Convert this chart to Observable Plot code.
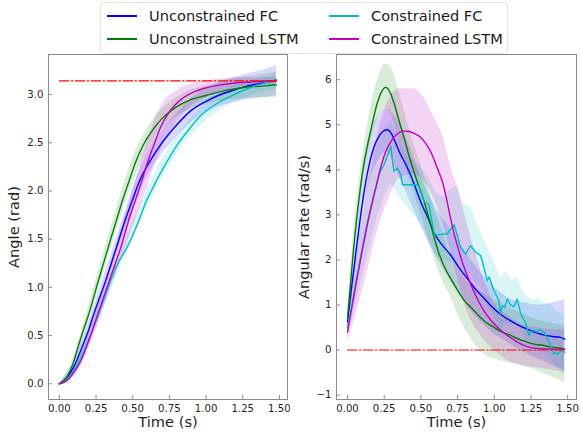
<!DOCTYPE html>
<html>
<head>
<meta charset="utf-8">
<script src="https://cdn.jsdelivr.net/npm/d3@7"></script>
<script src="https://cdn.jsdelivr.net/npm/@observablehq/plot@0.6"></script>
<style>
  html, body { margin: 0; padding: 0; background: #fff; }
  #wrap { position: relative; width: 581px; height: 434px; overflow: hidden; font-family: "DejaVu Sans", sans-serif; }
  #left, #right { position: absolute; top: 0; }
  #left { left: 0; }
  #right { left: 290px; }
  #legend { position: absolute; left: 100px; top: 2px; width: 406px; height: 50px; border: 1px solid #e4e4e4; border-radius: 3px; background: #fff; z-index: 5; }
  .sw { position: absolute; width: 30px; height: 2px; }
  .lt { position: absolute; font-size: 14.6px; color: #1a1a1a; line-height: 16px; white-space: nowrap; }
</style>
</head>
<body>
<div id="wrap">
  <div id="left"></div>
  <div id="right"></div>
  <div id="legend"></div>
</div>
<script>
// ---- series ----
const seriesNames = ["Unconstrained FC", "Unconstrained LSTM", "Constrained FC", "Constrained LSTM"];
const seriesColors = ["#0000ff", "#008000", "#00bfbf", "#bf00bf"];
const targetAngle = 3.14159;
const targetRate = 0;
const targetSpan = [0, 1.48];

// ---- tick labels ----
const timeTicks = [0, 0.25, 0.5, 0.75, 1.0, 1.25, 1.5];
const angleTicks = [0, 0.5, 1.0, 1.5, 2.0, 2.5, 3.0];
const rateTicks = [-1, 0, 1, 2, 3, 4, 5, 6];

// ---- Angle (rad): [time, mean] ----
const angleUFC = [[0,0],[0.05,0.06],[0.1,0.18],[0.157,0.39],[0.2,0.56],[0.236,0.73],[0.316,1.07],[0.39,1.42],[0.463,1.76],[0.497,1.9],[0.543,2.09],[0.622,2.32],[0.7,2.5],[0.78,2.65],[0.895,2.83],[1.0,2.93],[1.1,3.0],[1.2,3.05],[1.26,3.08],[1.35,3.11],[1.42,3.13],[1.48,3.15]];
const angleULSTM = [[0,0],[0.05,0.07],[0.1,0.24],[0.123,0.36],[0.16,0.54],[0.202,0.73],[0.266,1.07],[0.334,1.42],[0.402,1.76],[0.43,1.9],[0.47,2.08],[0.52,2.3],[0.58,2.5],[0.645,2.65],[0.7,2.75],[0.76,2.83],[0.83,2.9],[0.9,2.95],[1.0,2.99],[1.1,3.03],[1.2,3.06],[1.3,3.08],[1.4,3.09],[1.48,3.1]];
const angleCFC = [[0,0],[0.05,0.04],[0.1,0.14],[0.15,0.28],[0.2,0.46],[0.25,0.65],[0.3,0.86],[0.35,1.07],[0.4,1.25],[0.463,1.42],[0.52,1.61],[0.559,1.76],[0.588,1.88],[0.627,2.0],[0.656,2.09],[0.736,2.31],[0.8,2.47],[0.895,2.66],[0.95,2.76],[1.009,2.84],[1.1,2.93],[1.19,3.0],[1.28,3.06],[1.38,3.11],[1.48,3.15]];
const angleCLSTM = [[0,0],[0.05,0.03],[0.1,0.12],[0.15,0.25],[0.184,0.38],[0.22,0.53],[0.259,0.71],[0.3,0.89],[0.35,1.11],[0.42,1.42],[0.486,1.76],[0.52,1.91],[0.561,2.1],[0.604,2.31],[0.65,2.5],[0.69,2.66],[0.759,2.84],[0.83,2.95],[0.907,3.02],[1.0,3.07],[1.1,3.1],[1.2,3.12],[1.3,3.13],[1.4,3.14],[1.48,3.14]];

// ---- Angle bands: [time, low, high] ----
const bandAngleUFC = [[0,0,0],[0.1,0.13,0.23],[0.2,0.47,0.64],[0.3,0.92,1.1],[0.4,1.37,1.56],[0.5,1.8,2.02],[0.6,2.15,2.4],[0.7,2.38,2.63],[0.8,2.56,2.8],[0.9,2.71,2.96],[1.0,2.81,3.06],[1.1,2.88,3.13],[1.2,2.92,3.18],[1.3,2.95,3.22],[1.4,2.97,3.26],[1.48,2.99,3.3]];
const bandAngleULSTM = [[0,0,0],[0.1,0.19,0.29],[0.2,0.64,0.81],[0.3,1.14,1.35],[0.4,1.64,1.87],[0.5,2.08,2.34],[0.6,2.42,2.65],[0.7,2.64,2.85],[0.8,2.77,2.97],[0.9,2.85,3.05],[1.0,2.9,3.09],[1.1,2.93,3.13],[1.2,2.95,3.17],[1.3,2.96,3.19],[1.4,2.97,3.21],[1.48,2.97,3.23]];
const bandAngleCFC = [[0,0,0],[0.1,0.1,0.18],[0.2,0.39,0.53],[0.3,0.78,0.94],[0.4,1.16,1.33],[0.5,1.5,1.68],[0.6,1.83,2.02],[0.7,2.13,2.33],[0.8,2.38,2.57],[0.9,2.57,2.76],[1.0,2.73,2.92],[1.1,2.84,3.02],[1.2,2.92,3.09],[1.3,2.98,3.14],[1.4,3.03,3.18],[1.48,3.06,3.22]];
const bandAngleCLSTM = [[0,0,0],[0.1,0.07,0.17],[0.2,0.36,0.54],[0.3,0.76,1.0],[0.4,1.2,1.5],[0.5,1.62,2.0],[0.6,2.04,2.52],[0.7,2.45,2.9],[0.8,2.72,3.04],[0.9,2.88,3.11],[1.0,2.97,3.14],[1.1,3.03,3.16],[1.2,3.07,3.17],[1.3,3.09,3.17],[1.48,3.1,3.18]];

// ---- Angular rate (rad/s): [time, mean] ----
const rateUFC = [[0,0.63],[0.03,1.45],[0.06,2.25],[0.09,3.0],[0.12,3.65],[0.15,4.15],[0.18,4.5],[0.21,4.72],[0.24,4.85],[0.27,4.89],[0.3,4.8],[0.33,4.58],[0.36,4.35],[0.4,4.1],[0.45,3.72],[0.5,3.28],[0.55,2.92],[0.59,2.6],[0.64,2.35],[0.7,2.12],[0.77,1.78],[0.82,1.57],[0.87,1.36],[0.93,1.15],[0.98,0.97],[1.04,0.8],[1.1,0.67],[1.16,0.56],[1.22,0.47],[1.28,0.39],[1.34,0.33],[1.4,0.3],[1.45,0.28],[1.48,0.24]];
const rateULSTM = [[0,0.7],[0.02,1.45],[0.04,2.2],[0.06,2.85],[0.08,3.4],[0.1,3.9],[0.13,4.45],[0.16,4.9],[0.2,5.45],[0.23,5.72],[0.26,5.83],[0.29,5.72],[0.32,5.45],[0.35,5.1],[0.38,4.78],[0.42,4.3],[0.45,3.98],[0.49,3.6],[0.52,3.32],[0.55,2.98],[0.59,2.5],[0.62,2.17],[0.66,1.85],[0.7,1.6],[0.75,1.33],[0.8,1.08],[0.84,0.95],[0.9,0.74],[0.95,0.6],[1.0,0.5],[1.05,0.4],[1.1,0.34],[1.16,0.25],[1.2,0.2],[1.27,0.13],[1.32,0.11],[1.38,0.07],[1.43,0.05],[1.48,0.02]];
const rateCFC = [[0,0.5],[0.03,1.0],[0.06,1.55],[0.1,2.25],[0.14,2.9],[0.18,3.45],[0.22,3.95],[0.25,4.12],[0.27,4.3],[0.295,4.52],[0.315,3.97],[0.34,4.04],[0.363,3.89],[0.375,3.67],[0.475,3.67],[0.497,3.56],[0.52,3.3],[0.554,3.23],[0.575,2.85],[0.589,2.6],[0.6,2.55],[0.68,2.58],[0.727,2.78],[0.77,2.28],[0.804,2.13],[0.838,2.32],[0.872,2.17],[0.906,2.1],[0.92,1.95],[0.952,1.54],[0.965,1.62],[0.997,1.32],[1.031,1.1],[1.043,0.8],[1.054,0.98],[1.07,0.95],[1.088,1.13],[1.11,1.0],[1.134,0.96],[1.157,1.13],[1.18,0.8],[1.213,0.6],[1.236,0.32],[1.26,0.45],[1.29,0.4],[1.31,0.46],[1.34,0.39],[1.37,0.2],[1.4,-0.05],[1.43,-0.09],[1.46,0.0],[1.48,-0.05]];
const rateCLSTM = [[0,0.4],[0.03,0.95],[0.06,1.5],[0.1,2.2],[0.13,2.7],[0.16,3.15],[0.2,3.7],[0.23,4.1],[0.26,4.4],[0.3,4.65],[0.34,4.8],[0.38,4.86],[0.42,4.85],[0.46,4.8],[0.5,4.72],[0.53,4.6],[0.57,4.38],[0.61,4.05],[0.65,3.7],[0.675,3.35],[0.7,2.95],[0.725,2.6],[0.75,2.3],[0.78,1.97],[0.816,1.65],[0.85,1.38],[0.89,1.1],[0.93,0.87],[0.98,0.65],[1.04,0.45],[1.1,0.3],[1.16,0.17],[1.22,0.08],[1.3,0.03],[1.4,0.02],[1.48,0.02]];

// ---- Angular rate bands: [time, low, high] ----
const bandRateUFC = [[0,0.45,0.8],[0.05,1.6,2.35],[0.1,2.9,3.75],[0.15,3.7,4.65],[0.2,4.15,5.15],[0.27,4.4,5.35],[0.33,4.0,5.15],[0.4,3.5,4.7],[0.5,2.75,3.85],[0.6,2.1,3.15],[0.7,1.55,2.7],[0.8,1.05,2.2],[0.9,0.65,1.75],[1.0,0.35,1.4],[1.1,0.15,1.15],[1.2,-0.05,1.05],[1.3,-0.2,1.0],[1.4,-0.35,1.05],[1.48,-0.45,1.12]];
const bandRateULSTM = [[0,0.55,0.85],[0.05,2.3,2.9],[0.1,3.6,4.25],[0.15,4.5,5.25],[0.2,5.1,5.95],[0.26,5.35,6.35],[0.3,5.2,6.25],[0.35,4.6,5.75],[0.4,4.0,5.15],[0.45,3.5,4.6],[0.5,3.0,4.1],[0.55,2.45,3.6],[0.6,1.95,3.05],[0.65,1.5,2.6],[0.7,1.2,2.1],[0.75,0.8,1.8],[0.82,0.36,1.5],[0.93,-0.09,1.25],[1.04,-0.24,1.05],[1.16,-0.32,0.85],[1.27,-0.43,0.7],[1.38,-0.58,0.6],[1.48,-0.72,0.55]];
const bandRateCFC = [[0,0.3,0.7],[0.05,0.9,1.9],[0.1,1.6,2.9],[0.15,2.3,3.75],[0.2,2.9,4.5],[0.25,3.4,4.9],[0.3,3.7,5.1],[0.35,3.4,4.6],[0.4,3.2,4.3],[0.45,3.0,4.2],[0.5,2.8,4.05],[0.55,2.5,3.85],[0.6,2.1,3.5],[0.65,2.0,3.4],[0.7,1.95,3.55],[0.75,1.85,3.65],[0.78,1.7,3.3],[0.816,1.55,3.2],[0.84,1.7,3.15],[0.87,1.5,2.9],[0.906,1.4,2.65],[0.95,1.0,2.3],[1.0,0.75,1.95],[1.043,0.45,1.61],[1.08,0.6,1.75],[1.12,0.55,1.55],[1.157,0.6,1.61],[1.19,0.4,1.35],[1.225,0.15,1.17],[1.27,0.05,1.1],[1.3,0.0,1.15],[1.34,-0.05,1.05],[1.384,-0.2,1.0],[1.43,-0.4,0.85],[1.48,-0.55,0.8]];
const bandRateCLSTM = [[0,0.2,0.6],[0.05,0.7,1.75],[0.1,1.3,2.9],[0.15,1.95,3.9],[0.2,2.6,4.7],[0.25,3.1,5.3],[0.3,3.5,5.65],[0.35,3.8,5.8],[0.45,3.9,5.8],[0.52,3.75,5.6],[0.59,3.35,5.16],[0.66,2.7,4.63],[0.7,2.2,4.1],[0.75,1.6,3.6],[0.8,1.0,3.0],[0.85,0.6,2.4],[0.9,0.35,1.85],[0.95,0.15,1.4],[1.0,0.0,1.05],[1.1,-0.25,0.75],[1.2,-0.35,0.55],[1.3,-0.4,0.5],[1.4,-0.45,0.45],[1.48,-0.5,0.45]];

// ---- build ----
const angleMeans = [angleUFC, angleULSTM, angleCFC, angleCLSTM];
const angleBands = [bandAngleUFC, bandAngleULSTM, bandAngleCFC, bandAngleCLSTM];
const rateMeans = [rateUFC, rateULSTM, rateCFC, rateCLSTM];
const rateBands = [bandRateUFC, bandRateULSTM, bandRateCFC, bandRateCLSTM];
const bandOpacity = [0.15, 0.15, 0.15, 0.17];

const FRAME = "#8a8a8a";
const TXT = "#1f1f1f";

function panel({means, bands, yDomain, yTicks, yFormat, yLabel, target, width, ml, mr, xDomain, labelDx, curves}) {
  const marks = [];
  bands.forEach((b, i) => marks.push(Plot.areaY(b, {x: d => d[0], y1: d => d[1], y2: d => d[2], fill: seriesColors[i], fillOpacity: bandOpacity[i], curve: curves[i]})));
  means.forEach((m, i) => marks.push(Plot.line(m, {x: d => d[0], y: d => d[1], stroke: seriesColors[i], strokeWidth: 1.4, curve: curves[i]})));
  marks.push(Plot.line(targetSpan.map(t => [t, target]), {x: d => d[0], y: d => d[1], stroke: "#ff0000", strokeWidth: 1.2, strokeDasharray: "9.6,2.4,1.5,2.4"}));
  marks.push(Plot.frame({stroke: FRAME, strokeWidth: 1}));
  marks.push(Plot.axisX(timeTicks, {tickSize: -4, tickPadding: 9, stroke: FRAME, fill: TXT, tickFormat: d3.format(".2f"), label: null, fontSize: 10.2}));
  marks.push(Plot.axisY(yTicks, {tickSize: -4, tickPadding: 9, stroke: FRAME, fill: TXT, tickFormat: yFormat, label: null, fontSize: 10.2}));
  marks.push(Plot.text(["Time (s)"], {frameAnchor: "bottom", dy: 17.5, lineAnchor: "top", fontSize: 14.6, fill: TXT}));
  marks.push(Plot.text([yLabel], {frameAnchor: "left", dx: labelDx, rotate: -90, lineAnchor: "middle", textAnchor: "middle", fontSize: 14.6, fill: TXT}));
  return Plot.plot({
    width, height: 434,
    marginLeft: ml, marginRight: mr, marginTop: 54, marginBottom: 35,
    style: {fontFamily: "DejaVu Sans", fontSize: "10px", background: "transparent", color: TXT},
    x: {domain: xDomain, axis: null},
    y: {domain: yDomain, axis: null},
    marks
  });
}

document.getElementById("left").appendChild(panel({
  means: angleMeans, bands: angleBands, yDomain: [-0.163, 3.415], yTicks: angleTicks, yFormat: d3.format(".1f"),
  yLabel: "Angle (rad)", target: targetAngle, width: 290, ml: 48, mr: 3, xDomain: [-0.074, 1.555], labelDx: -34.5,
  curves: ["monotone-x", "monotone-x", "monotone-x", "monotone-x"]
}));
document.getElementById("right").appendChild(panel({
  means: rateMeans, bands: rateBands, yDomain: [-1.0985, 6.56], yTicks: rateTicks, yFormat: d3.format("d"),
  yLabel: "Angular rate (rad/s)", target: targetRate, width: 291, ml: 46, mr: 5, xDomain: [-0.075, 1.56], labelDx: -32.5,
  curves: ["monotone-x", "monotone-x", "linear", "monotone-x"]
}));

// ---- legend ----
const legend = document.getElementById("legend");
const legendPos = [[6, 13], [6, 36], [228, 13], [228, 36]];
seriesNames.forEach((name, i) => {
  const [lx, cy] = legendPos[i];
  const sw = document.createElement("div");
  sw.className = "sw";
  sw.style.left = lx + "px";
  sw.style.top = (cy - 1) + "px";
  sw.style.background = seriesColors[i];
  legend.appendChild(sw);
  const t = document.createElement("div");
  t.className = "lt";
  t.style.left = (lx + 42) + "px";
  t.style.top = (cy - 8) + "px";
  t.textContent = name;
  legend.appendChild(t);
});
</script>
</body>
</html>
